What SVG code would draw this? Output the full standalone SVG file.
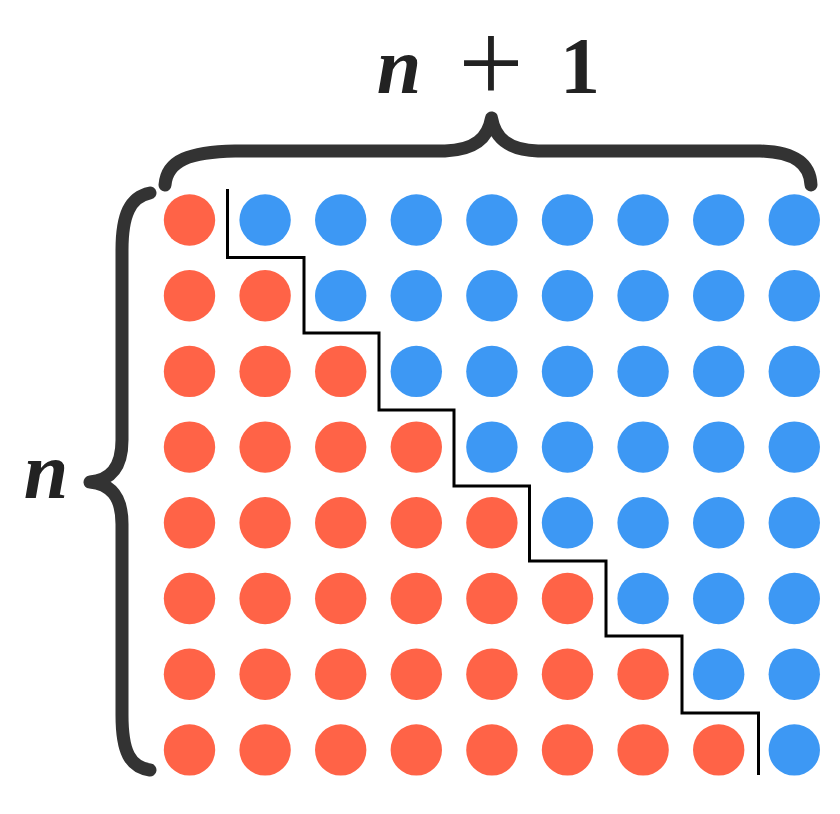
<svg xmlns="http://www.w3.org/2000/svg" width="840" height="814" viewBox="0 0 840 814">
  <style>
    .r { fill: #FF6347; }
    .b { fill: #3D98F4; }
    .brace { fill: none; stroke: #333333; stroke-width: 13; stroke-linecap: round; stroke-linejoin: round; }
    .stair { fill: none; stroke: #000000; stroke-width: 3; stroke-linejoin: miter; stroke-linecap: butt; }
    .mi { font-family: "Liberation Serif", "DejaVu Serif", serif; font-style: italic; font-weight: bold; font-size: 80px; fill: #222222; }
    .mb { font-family: "Liberation Serif", "DejaVu Serif", serif; font-weight: bold; font-size: 80px; fill: #222222; }
    .mp { font-family: "Liberation Serif", "DejaVu Serif", serif; font-size: 116px; fill: #222222; }
  </style>
  <defs>
    <circle id="d" r="25.7"/>
  </defs>
  <rect width="840" height="814" fill="#FFFFFF"/>

  <g id="label-top">
    <text class="mi" x="399" y="93" text-anchor="middle">n</text>
    <text class="mp" x="491" y="102" text-anchor="middle">+</text>
    <text class="mb" x="580" y="93" text-anchor="middle">1</text>
  </g>
  <g id="label-left">
    <text class="mi" x="46" y="498" text-anchor="middle">n</text>
  </g>

  <g id="brace-top">
    <path class="brace" d="M165,185 C167,160 190,152 235,151 H445 C475,150 488,138 491.5,118 C495,138 508,150 538,151 H760 C795,152 810,164 811,185"/>
  </g>
  <g id="brace-left">
    <path class="brace" d="M150,193 C130,197 122,215 122,250 V440 C122,468 110,480 90,482 C110,484 122,496 122,524 V715 C122,752 130,767 150,770"/>
  </g>

  <g id="dots">
    <g id="row1">
      <use href="#d" class="r" x="189.5" y="220"/>
      <use href="#d" class="b" x="265.1" y="220"/>
      <use href="#d" class="b" x="340.7" y="220"/>
      <use href="#d" class="b" x="416.3" y="220"/>
      <use href="#d" class="b" x="491.9" y="220"/>
      <use href="#d" class="b" x="567.5" y="220"/>
      <use href="#d" class="b" x="643.1" y="220"/>
      <use href="#d" class="b" x="718.7" y="220"/>
      <use href="#d" class="b" x="794.3" y="220"/>
    </g>
    <g id="row2">
      <use href="#d" class="r" x="189.5" y="295.7"/>
      <use href="#d" class="r" x="265.1" y="295.7"/>
      <use href="#d" class="b" x="340.7" y="295.7"/>
      <use href="#d" class="b" x="416.3" y="295.7"/>
      <use href="#d" class="b" x="491.9" y="295.7"/>
      <use href="#d" class="b" x="567.5" y="295.7"/>
      <use href="#d" class="b" x="643.1" y="295.7"/>
      <use href="#d" class="b" x="718.7" y="295.7"/>
      <use href="#d" class="b" x="794.3" y="295.7"/>
    </g>
    <g id="row3">
      <use href="#d" class="r" x="189.5" y="371.4"/>
      <use href="#d" class="r" x="265.1" y="371.4"/>
      <use href="#d" class="r" x="340.7" y="371.4"/>
      <use href="#d" class="b" x="416.3" y="371.4"/>
      <use href="#d" class="b" x="491.9" y="371.4"/>
      <use href="#d" class="b" x="567.5" y="371.4"/>
      <use href="#d" class="b" x="643.1" y="371.4"/>
      <use href="#d" class="b" x="718.7" y="371.4"/>
      <use href="#d" class="b" x="794.3" y="371.4"/>
    </g>
    <g id="row4">
      <use href="#d" class="r" x="189.5" y="447.1"/>
      <use href="#d" class="r" x="265.1" y="447.1"/>
      <use href="#d" class="r" x="340.7" y="447.1"/>
      <use href="#d" class="r" x="416.3" y="447.1"/>
      <use href="#d" class="b" x="491.9" y="447.1"/>
      <use href="#d" class="b" x="567.5" y="447.1"/>
      <use href="#d" class="b" x="643.1" y="447.1"/>
      <use href="#d" class="b" x="718.7" y="447.1"/>
      <use href="#d" class="b" x="794.3" y="447.1"/>
    </g>
    <g id="row5">
      <use href="#d" class="r" x="189.5" y="522.8"/>
      <use href="#d" class="r" x="265.1" y="522.8"/>
      <use href="#d" class="r" x="340.7" y="522.8"/>
      <use href="#d" class="r" x="416.3" y="522.8"/>
      <use href="#d" class="r" x="491.9" y="522.8"/>
      <use href="#d" class="b" x="567.5" y="522.8"/>
      <use href="#d" class="b" x="643.1" y="522.8"/>
      <use href="#d" class="b" x="718.7" y="522.8"/>
      <use href="#d" class="b" x="794.3" y="522.8"/>
    </g>
    <g id="row6">
      <use href="#d" class="r" x="189.5" y="598.5"/>
      <use href="#d" class="r" x="265.1" y="598.5"/>
      <use href="#d" class="r" x="340.7" y="598.5"/>
      <use href="#d" class="r" x="416.3" y="598.5"/>
      <use href="#d" class="r" x="491.9" y="598.5"/>
      <use href="#d" class="r" x="567.5" y="598.5"/>
      <use href="#d" class="b" x="643.1" y="598.5"/>
      <use href="#d" class="b" x="718.7" y="598.5"/>
      <use href="#d" class="b" x="794.3" y="598.5"/>
    </g>
    <g id="row7">
      <use href="#d" class="r" x="189.5" y="674.2"/>
      <use href="#d" class="r" x="265.1" y="674.2"/>
      <use href="#d" class="r" x="340.7" y="674.2"/>
      <use href="#d" class="r" x="416.3" y="674.2"/>
      <use href="#d" class="r" x="491.9" y="674.2"/>
      <use href="#d" class="r" x="567.5" y="674.2"/>
      <use href="#d" class="r" x="643.1" y="674.2"/>
      <use href="#d" class="b" x="718.7" y="674.2"/>
      <use href="#d" class="b" x="794.3" y="674.2"/>
    </g>
    <g id="row8">
      <use href="#d" class="r" x="189.5" y="749.9"/>
      <use href="#d" class="r" x="265.1" y="749.9"/>
      <use href="#d" class="r" x="340.7" y="749.9"/>
      <use href="#d" class="r" x="416.3" y="749.9"/>
      <use href="#d" class="r" x="491.9" y="749.9"/>
      <use href="#d" class="r" x="567.5" y="749.9"/>
      <use href="#d" class="r" x="643.1" y="749.9"/>
      <use href="#d" class="r" x="718.7" y="749.9"/>
      <use href="#d" class="b" x="794.3" y="749.9"/>
    </g>
  </g>

  <g id="connectors">
    <path class="stair" d="M227.5,189 V257.5 H304 V333 H379 V410 H454 V486 H529.5 V561 H606 V636 H682 V713 H758.5 V775"/>
  </g>
</svg>
